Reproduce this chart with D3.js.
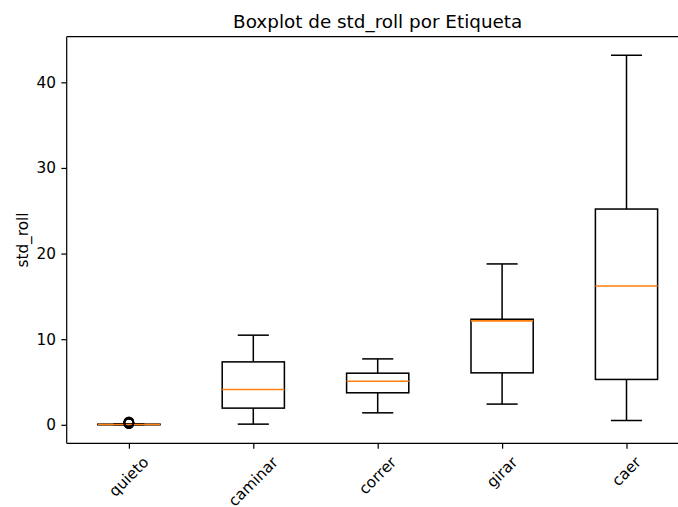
<html>
  <head>
    <meta charset="utf-8">
    <title>Boxplot</title>
    <script src="https://d3js.org/d3.v7.min.js" charset="utf-8"></script>
    <style>
      body { margin: 0; background: #fff; }
      text { font-family: "DejaVu Sans", sans-serif; fill: #000; }
    </style>
  </head>
  <body>
    <div id="chart"></div>
    <script>
      // values
      const categories = ["quieto", "caminar", "correr", "girar", "caer"];
      const whiskerLow = [0.0, 0.08, 1.4, 2.42, 0.51];
      const q1 = [0.0, 1.95, 3.74, 6.07, 5.3];
      const median = [0.03, 4.13, 5.1, 12.14, 16.22];
      const q3 = [0.08, 7.35, 6.03, 12.33, 25.2];
      const whiskerHigh = [0.12, 10.47, 7.7, 18.79, 43.17];
      const outliers = [[0.14, 0.17, 0.2, 0.23, 0.26, 0.3, 0.34], [], [], [], []];
      const yTicks = [0, 10, 20, 30, 40];

      const outerWidth = 678;
      const outerHeight = 507;
      const margin = { top: 36.7, left: 66.7 };
      const width = 622;
      const height = 406.6;

      // figure is ~110 dpi: 1pt = 1.53px
      const pt = 1.53;
      const tickFont = 10 * pt;
      const titleFont = 12 * pt;
      const tickLen = 3.5 * pt;

      const svg = d3.select("#chart")
        .append("svg")
        .attr("width", outerWidth)
        .attr("height", outerHeight)
        .style("display", "block");

      svg.append("rect")
        .attr("width", outerWidth)
        .attr("height", outerHeight)
        .attr("fill", "#fff");

      const g = svg.append("g")
        .attr("transform", "translate(" + margin.left + "," + margin.top + ")");

      const boxes = categories.map((c, i) => ({
        name: c, lo: whiskerLow[i], q1: q1[i], med: median[i], q3: q3[i], hi: whiskerHigh[i], out: outliers[i]
      }));

      // matplotlib style 5% margins
      const allVals = boxes.flatMap(b => [b.lo, b.hi].concat(b.out));
      const vmin = d3.min(allVals), vmax = d3.max(allVals);
      const pad = (vmax - vmin) * 0.05;

      const y = d3.scaleLinear().domain([vmin - pad, vmax + pad]).range([height, 0]);
      const x = d3.scaleLinear().domain([0.5, categories.length + 0.5]).range([0, width]);

      const boxW = x(1.25) - x(1);   // half of box width
      const capW = boxW / 2;
      const lw = 1.0 * pt;
      const spineW = 0.8 * pt;

      // y axis
      const yAxis = g.append("g")
        .call(d3.axisLeft(y).tickValues(yTicks).tickSize(tickLen).tickPadding(tickLen).tickFormat(d3.format("d")));
      yAxis.select(".domain").remove();
      yAxis.selectAll("line").attr("stroke", "#000").attr("stroke-width", spineW);
      yAxis.selectAll("text").style("font-size", tickFont + "px").attr("fill", "#000");

      // x axis
      const xAxis = g.append("g")
        .attr("transform", "translate(0," + height + ")")
        .call(d3.axisBottom(x).tickValues(d3.range(1, categories.length + 1)).tickSize(tickLen).tickFormat(""));
      xAxis.select(".domain").remove();
      xAxis.selectAll("line").attr("stroke", "#000").attr("stroke-width", spineW);

      // rotated category labels, bbox centred under the tick (rotation=45)
      categories.forEach((c, i) => {
        const t = g.append("text")
          .style("font-size", tickFont + "px")
          .attr("text-anchor", "middle")
          .attr("dominant-baseline", "central")
          .text(c);
        const w = t.node().getComputedTextLength();
        const h = tickFont * 1.05;
        const bb = (w + h) * Math.SQRT1_2;
        const cx = x(i + 1);
        const cy = height + tickLen + tickLen + bb / 2;
        t.attr("transform", "translate(" + cx + "," + cy + ") rotate(-45)");
      });

      // spines (the right one falls outside the picture)
      g.append("line").attr("x1", 0).attr("x2", width).attr("y1", 0).attr("y2", 0)
        .attr("stroke", "#000").attr("stroke-width", spineW);
      g.append("line").attr("x1", 0).attr("x2", width).attr("y1", height).attr("y2", height)
        .attr("stroke", "#000").attr("stroke-width", spineW);
      g.append("line").attr("x1", 0).attr("x2", 0).attr("y1", 0).attr("y2", height)
        .attr("stroke", "#000").attr("stroke-width", spineW);
      g.append("line").attr("x1", width).attr("x2", width).attr("y1", 0).attr("y2", height)
        .attr("stroke", "#000").attr("stroke-width", spineW);

      const bx = g.selectAll(".box").data(boxes).enter().append("g").classed("box", true);

      // whiskers
      bx.append("line")
        .attr("x1", (d, i) => x(i + 1)).attr("x2", (d, i) => x(i + 1))
        .attr("y1", d => y(d.lo)).attr("y2", d => y(d.q1))
        .attr("stroke", "#000").attr("stroke-width", lw);
      bx.append("line")
        .attr("x1", (d, i) => x(i + 1)).attr("x2", (d, i) => x(i + 1))
        .attr("y1", d => y(d.q3)).attr("y2", d => y(d.hi))
        .attr("stroke", "#000").attr("stroke-width", lw);
      // caps
      bx.append("line")
        .attr("x1", (d, i) => x(i + 1) - capW).attr("x2", (d, i) => x(i + 1) + capW)
        .attr("y1", d => y(d.lo)).attr("y2", d => y(d.lo))
        .attr("stroke", "#000").attr("stroke-width", lw);
      bx.append("line")
        .attr("x1", (d, i) => x(i + 1) - capW).attr("x2", (d, i) => x(i + 1) + capW)
        .attr("y1", d => y(d.hi)).attr("y2", d => y(d.hi))
        .attr("stroke", "#000").attr("stroke-width", lw);
      // box
      bx.append("rect")
        .attr("x", (d, i) => x(i + 1) - boxW)
        .attr("width", boxW * 2)
        .attr("y", d => y(d.q3))
        .attr("height", d => y(d.q1) - y(d.q3))
        .attr("fill", "none").attr("stroke", "#000").attr("stroke-width", lw);
      // median
      bx.append("line")
        .attr("x1", (d, i) => x(i + 1) - boxW).attr("x2", (d, i) => x(i + 1) + boxW)
        .attr("y1", d => y(d.med)).attr("y2", d => y(d.med))
        .attr("stroke", "#ff7f0e").attr("stroke-width", lw);
      // fliers
      bx.each(function (d, i) {
        d3.select(this).selectAll("circle").data(d.out).enter().append("circle")
          .attr("cx", x(i + 1)).attr("cy", v => y(v)).attr("r", 3 * pt)
          .attr("fill", "none").attr("stroke", "#000").attr("stroke-width", lw);
      });

      // title and y label
      svg.append("text")
        .attr("x", margin.left + width / 2)
        .attr("y", margin.top - 6 * pt)
        .attr("text-anchor", "middle")
        .style("font-size", titleFont + "px")
        .text("Boxplot de std_roll por Etiqueta");

      svg.append("text")
        .attr("transform", "translate(28," + (margin.top + height / 2) + ") rotate(-90)")
        .attr("text-anchor", "middle")
        .style("font-size", tickFont + "px")
        .text("std_roll");
    </script>
  </body>
</html>
